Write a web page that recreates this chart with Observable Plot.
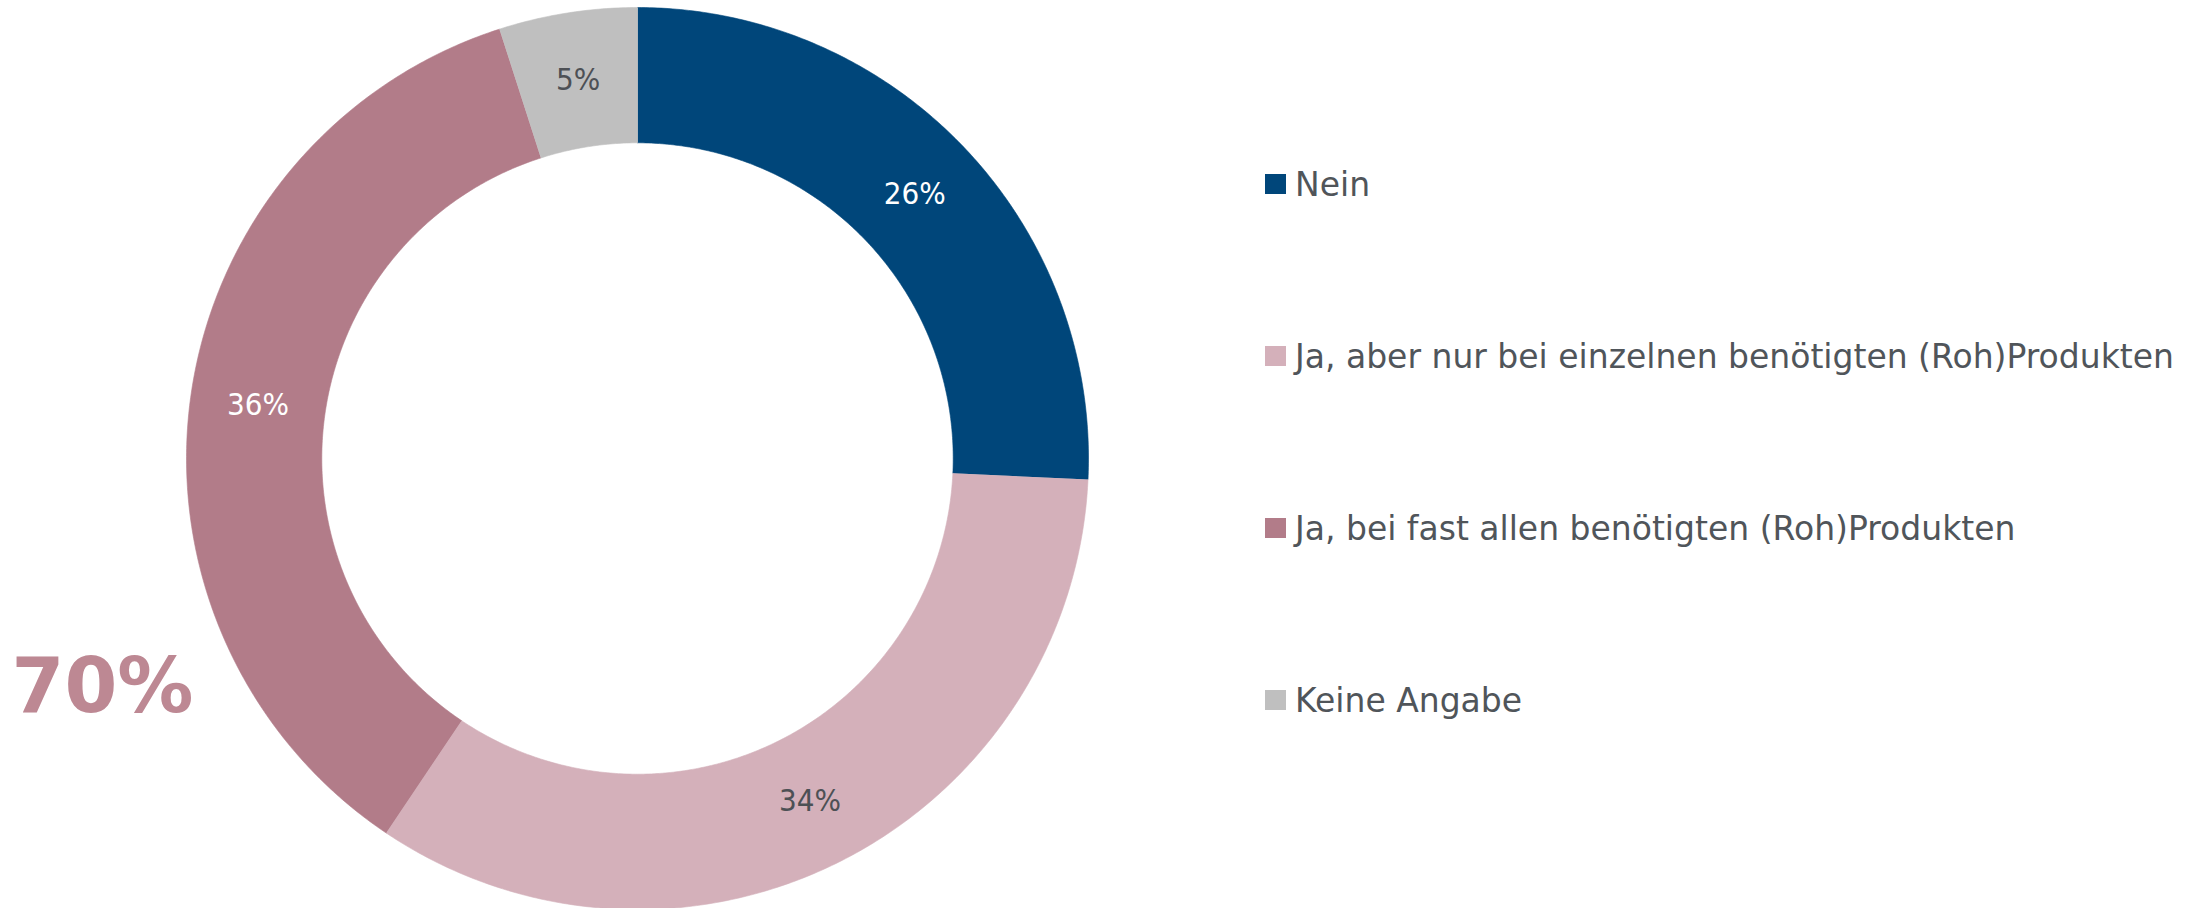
<!DOCTYPE html>
<html>
<head>
<meta charset="utf-8">
<script src="https://cdn.jsdelivr.net/npm/d3@7"></script>
<script src="https://cdn.jsdelivr.net/npm/@observablehq/plot@0.6"></script>
<style>
  html, body { margin: 0; padding: 0; background: #ffffff; }
  #wrap { position: relative; width: 2210px; height: 908px; overflow: hidden; }
  #legend { position: absolute; left: 1265px; top: 0; font-family: "DejaVu Sans", sans-serif; font-size: 33px; color: #50555a; }
  .item { position: absolute; left: 0; height: 40px; display: flex; align-items: center; white-space: nowrap; }
  .sw { width: 21px; height: 20px; margin-right: 9px; flex: none; }
</style>
</head>
<body>
<div id="wrap"><div id="chart"></div><div id="legend"></div></div>
<script>
// ---- data ----
const categories = [
  "Nein",
  "Ja, aber nur bei einzelnen benötigten (Roh)Produkten",
  "Ja, bei fast allen benötigten (Roh)Produkten",
  "Keine Angabe"
];
const values = [26, 34, 36, 5];
const highlighted = [
  "Ja, aber nur bei einzelnen benötigten (Roh)Produkten",
  "Ja, bei fast allen benötigten (Roh)Produkten"
];

// ---- styles ----
const colors = ["#00467A", "#D4B0BA", "#B27C89", "#BFBFBF"];
const whiteLabels = ["Nein", "Ja, bei fast allen benötigten (Roh)Produkten"];
const innerRatio = 0.7;
const labelRadius = 0.85;
const fontFam = '"DejaVu Sans Condensed", "DejaVu Sans", sans-serif';

// ---- geometry from data ----
const total = d3.sum(values);
let cum = 0;
const slices = categories.map((c, i) => {
  const a0 = cum / total * 2 * Math.PI;
  cum += values[i];
  const a1 = cum / total * 2 * Math.PI;
  return {cat: c, value: values[i], a0, a1, mid: (a0 + a1) / 2};
});
const pts = [];
for (const s of slices) {
  const n = Math.max(2, Math.ceil((s.a1 - s.a0) / (Math.PI / 360)));
  for (let k = 0; k <= n; k++) {
    const a = s.a0 + (s.a1 - s.a0) * k / n;
    pts.push({cat: s.cat, x: Math.sin(a), y: Math.cos(a)});
  }
  for (let k = n; k >= 0; k--) {
    const a = s.a0 + (s.a1 - s.a0) * k / n;
    pts.push({cat: s.cat, x: innerRatio * Math.sin(a), y: innerRatio * Math.cos(a)});
  }
}
const highlightTotal = d3.sum(slices.filter(s => highlighted.includes(s.cat)), s => s.value);

const chart = Plot.plot({
  width: 1150,
  height: 908,
  margin: 0,
  x: {domain: [-1, 1], range: [186, 1088], axis: null},
  y: {domain: [-1, 1], range: [909, 7], axis: null},
  color: {domain: categories, range: colors, legend: false},
  style: {fontFamily: fontFam, background: "#ffffff"},
  marks: [
    Plot.line(pts, {x: "x", y: "y", z: "cat", fill: "cat", stroke: "cat", strokeWidth: 0.6, curve: "linear"}),
    Plot.text(slices.filter(s => whiteLabels.includes(s.cat)), {
      x: s => labelRadius * Math.sin(s.mid), y: s => labelRadius * Math.cos(s.mid),
      text: s => s.value + "%", fill: "#ffffff", fontSize: 31, fontFamily: fontFam
    }),
    Plot.text(slices.filter(s => !whiteLabels.includes(s.cat)), {
      x: s => labelRadius * Math.sin(s.mid), y: s => labelRadius * Math.cos(s.mid),
      text: s => s.value + "%", fill: "#4d5055", fontSize: 31, fontFamily: fontFam
    }),
    Plot.text([highlightTotal], {
      frameAnchor: "left", dx: 11, dy: 233, textAnchor: "start",
      text: d => d + "%", fill: "#BD8893", fontSize: 76, fontWeight: "bold",
      fontFamily: '"DejaVu Sans", sans-serif'
    })
  ]
});
document.getElementById("chart").appendChild(chart);

// ---- legend ----
const legendCenters = [184, 356, 528, 700];
const legend = document.getElementById("legend");
categories.forEach((c, i) => {
  const it = document.createElement("div");
  it.className = "item";
  it.style.top = (legendCenters[i] - 20) + "px";
  const sw = document.createElement("span");
  sw.className = "sw";
  sw.style.background = colors[i];
  const tx = document.createElement("span");
  tx.textContent = c;
  it.appendChild(sw);
  it.appendChild(tx);
  legend.appendChild(it);
});
</script>
</body>
</html>
